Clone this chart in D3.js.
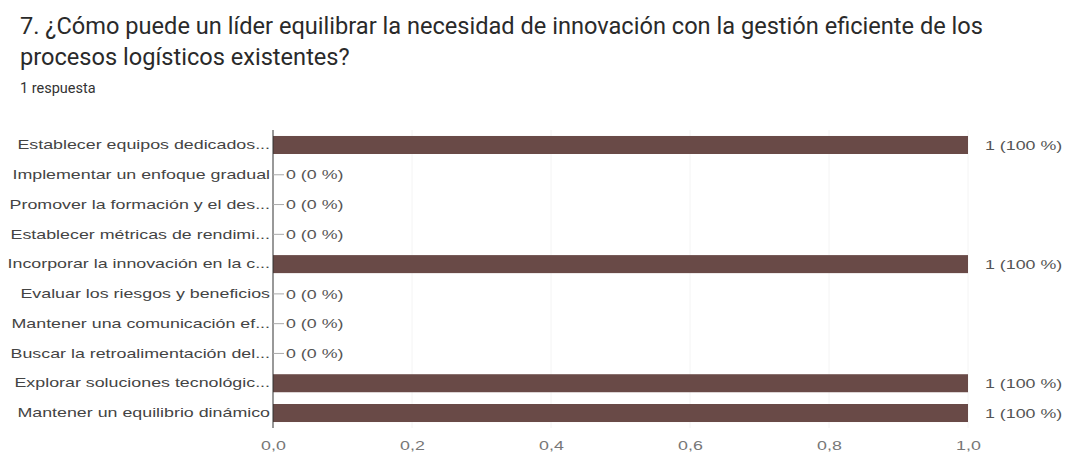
<!DOCTYPE html>
<html><head><meta charset="utf-8">
<script src="https://cdn.jsdelivr.net/npm/d3@7"></script>
<style>body{margin:0;background:#fff;}svg{display:block;}</style>
</head><body>
<svg id="c" width="1066" height="460"></svg>
<script>
const titleLines = ["7. ¿Cómo puede un líder equilibrar la necesidad de innovación con la gestión eficiente de los", "procesos logísticos existentes?"];
const subtitle = "1 respuesta";
const categories = ["Establecer equipos dedicados...", "Implementar un enfoque gradual", "Promover la formación y el des...", "Establecer métricas de rendimi...", "Incorporar la innovación en la c...", "Evaluar los riesgos y beneficios", "Mantener una comunicación ef...", "Buscar la retroalimentación del...", "Explorar soluciones tecnológic...", "Mantener un equilibrio dinámico"];
const counts = [1, 0, 0, 0, 1, 0, 0, 0, 1, 1];
const percents = [100, 0, 0, 0, 100, 0, 0, 0, 100, 100];
const tickValues = [0, 0.2, 0.4, 0.6, 0.8, 1.0];

const STRETCH = 1.34;
const LABEL_FONT = "Arial, 'Liberation Sans', sans-serif";
function stretch(sel, f) {
  sel.each(function () {
    const w = this.getComputedTextLength();
    d3.select(this).attr("textLength", w * f).attr("lengthAdjust", "spacingAndGlyphs");
  });
}

const svg = d3.select("#c");
const x = d3.scaleLinear().domain([0, 1]).range([273, 968]);
const y = d3.scaleBand().domain(categories).range([130.1, 427.9]).paddingInner(0.395).paddingOuter(0.1975);

svg.selectAll("text.title").data(titleLines).join("text")
  .attr("class", "title")
  .attr("x", 20).attr("y", (d, i) => 34 + i * 31)
  .attr("font-family", "Roboto, sans-serif").attr("font-size", 23.6)
  .attr("fill", "#2a2a2a").text(d => d);
svg.append("text").attr("x", 20).attr("y", 93)
  .attr("font-family", "Roboto, sans-serif").attr("font-size", 14.5)
  .attr("fill", "#333").text(subtitle);

// faint gridlines
svg.append("g").selectAll("line").data(tickValues.slice(1)).join("line")
  .attr("x1", d => x(d)).attr("x2", d => x(d)).attr("y1", 130).attr("y2", 428)
  .attr("stroke", "#f4f4f4").attr("stroke-width", 1);

// bars
svg.append("g").selectAll("rect").data(categories).join("rect")
  .attr("x", x(0)).attr("y", d => y(d))
  .attr("width", (d, i) => x(counts[i]) - x(0)).attr("height", y.bandwidth())
  .attr("fill", "#694a47");

// y axis
const yAxis = d3.axisLeft(y).tickSize(0).tickPadding(3);
const gy = svg.append("g").attr("transform", `translate(${x(0)},0)`).call(yAxis);
gy.select(".domain").remove();
gy.selectAll("text").attr("font-family", LABEL_FONT).attr("font-size", 13.3).attr("fill", "#444")
  .call(stretch, STRETCH);
svg.append("line").attr("x1", x(0)).attr("x2", x(0)).attr("y1", 130).attr("y2", 428)
  .attr("stroke", "#333").attr("stroke-width", 1);

// x axis
const xAxis = d3.axisBottom(x).tickValues(tickValues).tickSize(0).tickPadding(13)
  .tickFormat(d => d3.format(".1f")(d).replace(".", ","));
const gx = svg.append("g").attr("transform", `translate(0,428)`).call(xAxis);
gx.select(".domain").remove();
gx.selectAll("text").attr("font-family", LABEL_FONT).attr("font-size", 13.3).attr("fill", "#777")
  .call(stretch, STRETCH);

// value labels
const lab = svg.append("g");
categories.forEach((c, i) => {
  const cy = y(c) + y.bandwidth() / 2;
  if (counts[i] === 0) {
    lab.append("line").attr("x1", x(0)).attr("x2", x(0) + 11).attr("y1", cy).attr("y2", cy)
      .attr("stroke", "#aaa").attr("stroke-width", 1);
  }
  lab.append("text").attr("x", x(counts[i]) + (counts[i] === 0 ? 13 : 17)).attr("y", cy)
    .attr("dy", "0.35em")
    .attr("font-family", LABEL_FONT).attr("font-size", 13.3)
    .attr("fill", "#555").text(`${counts[i]} (${percents[i]} %)`)
    .call(stretch, STRETCH);
});
</script>
</body></html>
